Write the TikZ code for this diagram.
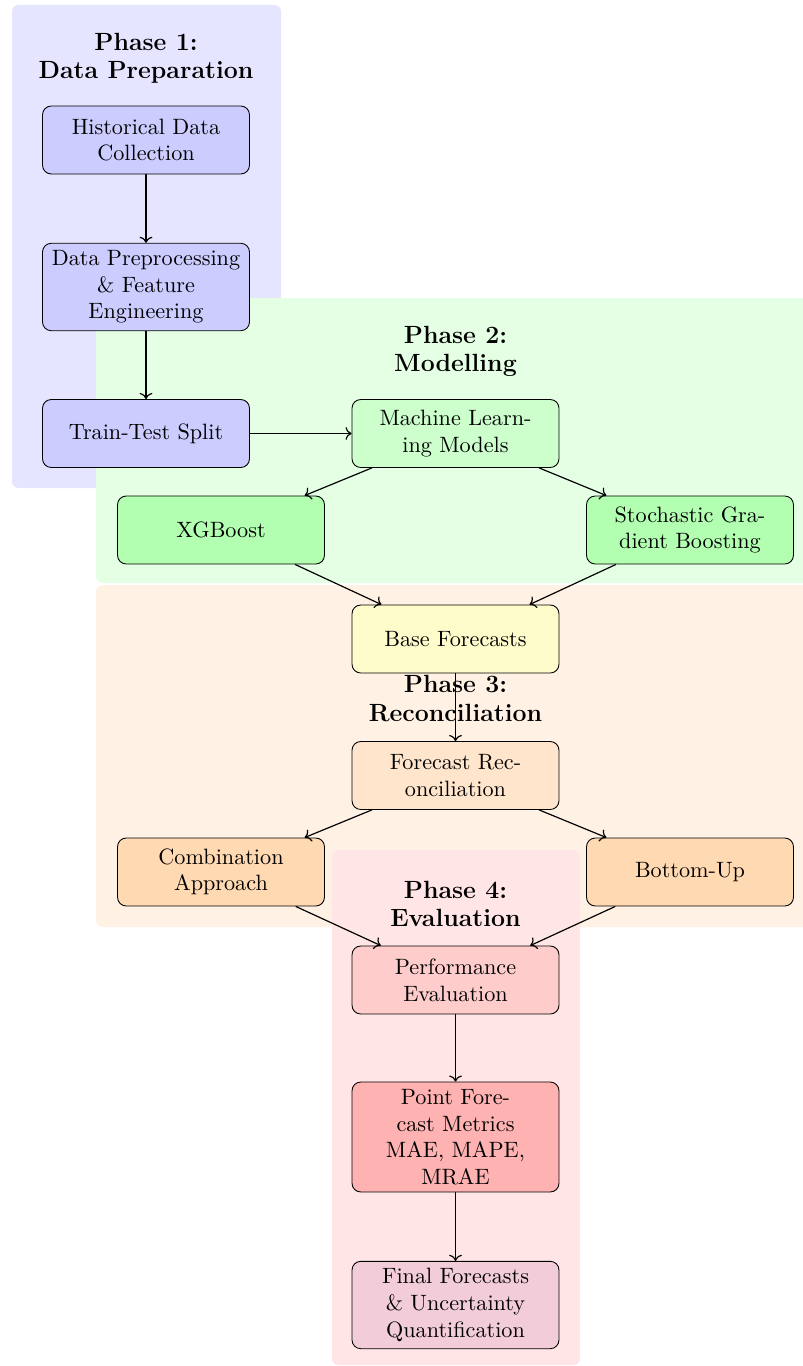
\documentclass[tikz,border=0pt]{standalone}
\usetikzlibrary{arrows.meta}
\tikzset{
  box/.style={draw=black, rounded corners=4pt, align=center,
    minimum width=95.6pt, minimum height=31.4pt, inner sep=3.33pt,
    font=\fontsize{10.25}{12.3}\selectfont},
  phasebg/.style={rounded corners=3pt},
  ptitle/.style={align=center, font=\fontsize{11.5}{13}\selectfont\bfseries},
  arr/.style={->, line width=0.55pt}
}
\begin{document}
\begin{tikzpicture}[x=0.462pt,y=-0.462pt]
\useasboundingbox (0,0) rectangle (803,1366);
% phase backgrounds
\fill[phasebg, blue!10] (12,5) rectangle (281,488);
\fill[phasebg, green!10] (96,298) rectangle (820,583);
\fill[phasebg, orange!10] (96,585) rectangle (820,927);
\fill[phasebg, red!10] (332,850) rectangle (580,1365);
% titles
\node[ptitle] (t1) at (146,58.5) {Phase 1:\\Data Preparation};
\node[ptitle] (t2) at (455.5,351.5) {Phase 2:\\Modelling};
\node[ptitle] (t3) at (455.5,698.5) {Phase 3:\\Reconciliation};
\node[ptitle] (t4) at (455.5,903.5) {Phase 4:\\Evaluation};
% nodes
\node[box, fill=blue!20] (hist) at (146,140) {Historical Data\\Collection};
\node[box, fill=blue!20] (prep) at (146,287) {Data Preprocessing\\\& Feature\\Engineering};
\node[box, fill=blue!20] (split) at (146,433.5) {Train-Test Split};
\node[box, fill=green!20] (ml) at (455.5,433.5) {Machine Learn-\\ing Models};
\node[box, fill=green!30] (xgb) at (221,530) {XGBoost};
\node[box, fill=green!30] (sgb) at (690,530) {Stochastic Gra-\\dient Boosting};
\node[box, fill=yellow!20] (base) at (455.5,639) {Base Forecasts};
\node[box, fill=orange!20] (recon) at (455.5,775.5) {Forecast Rec-\\onciliation};
\node[box, fill=orange!30] (comb) at (221,872) {Combination\\Approach};
\node[box, fill=orange!30] (bu) at (690,872) {Bottom-Up};
\node[box, fill=red!20] (perf) at (455.5,980) {Performance\\Evaluation};
\node[box, fill=red!30] (point) at (455.5,1137) {Point Fore-\\cast Metrics\\MAE, MAPE,\\MRAE};
\node[box, fill=purple!20] (final) at (455.5,1305) {Final Forecasts\\\& Uncertainty\\Quantification};
% connectors
\draw[arr] (hist) -- (prep);
\draw[arr] (prep) -- (split);
\draw[arr] (split) -- (ml);
\draw[arr] (ml) -- (xgb);
\draw[arr] (ml) -- (sgb);
\draw[arr] (xgb) -- (base);
\draw[arr] (sgb) -- (base);
\draw[arr] (base) -- (recon);
\draw[arr] (recon) -- (comb);
\draw[arr] (recon) -- (bu);
\draw[arr] (comb) -- (perf);
\draw[arr] (bu) -- (perf);
\draw[arr] (perf) -- (point);
\draw[arr] (point) -- (final);
\end{tikzpicture}
\end{document}
